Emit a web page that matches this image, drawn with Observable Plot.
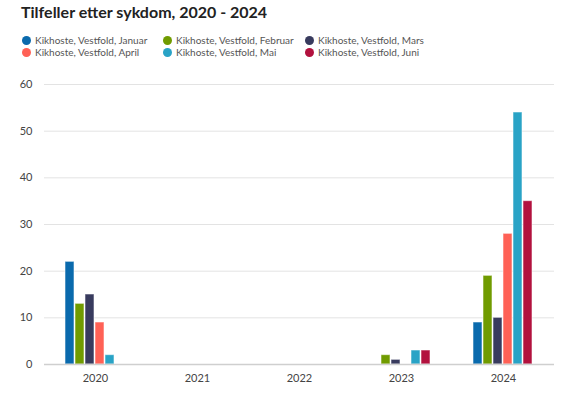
<!DOCTYPE html>
<html>
<head>
<meta charset="utf-8">
<script src="https://cdn.jsdelivr.net/npm/d3@7"></script>
<script src="https://cdn.jsdelivr.net/npm/@observablehq/plot@0.6"></script>
<style>
  body { margin: 0; background: #fff; font-family: Lato, "Open Sans", sans-serif; }
  #wrap { position: relative; width: 577px; height: 399px; }
  #title { position: absolute; left: 21px; top: 2px; font-size: 16px; font-weight: bold; color: #222; }
  .leg { position: absolute; font-size: 10px; color: #555; white-space: nowrap; }
  .leg .dot { display: inline-block; width: 9px; height: 9px; border-radius: 50%; vertical-align: -1px; margin-right: 4px; }
  #chart { position: absolute; left: 0; top: 66px; }
</style>
</head>
<body>
<div id="wrap">
  <div id="title">Tilfeller etter sykdom, 2020 - 2024</div>
  <div id="legend"></div>
  <div id="chart"></div>
</div>
<script>
const years = ["2020", "2021", "2022", "2023", "2024"];
const series = [
  "Kikhoste, Vestfold, Januar",
  "Kikhoste, Vestfold, Februar",
  "Kikhoste, Vestfold, Mars",
  "Kikhoste, Vestfold, April",
  "Kikhoste, Vestfold, Mai",
  "Kikhoste, Vestfold, Juni"
];
const colors = ["#0a6aad", "#709b00", "#383b5e", "#ff6156", "#29a3c6", "#b2113e"];
const januar  = [22, 0, 0, 0, 9];
const februar = [13, 0, 0, 2, 19];
const mars    = [15, 0, 0, 1, 10];
const april   = [9, 0, 0, 0, 28];
const mai     = [2, 0, 0, 3, 54];
const juni    = [0, 0, 0, 3, 35];
const yTicks = [0, 10, 20, 30, 40, 50, 60];

const valueLists = [januar, februar, mars, april, mai, juni];
const data = [];
years.forEach((yr, i) => {
  series.forEach((s, j) => data.push({year: yr, series: s, value: valueLists[j][i]}));
});

// legend
const legend = document.getElementById("legend");
const colX = [22, 163, 305];
const rowY = [34, 46];
series.forEach((s, j) => {
  const d = document.createElement("div");
  d.className = "leg";
  d.style.left = colX[j % 3] + "px";
  d.style.top = rowY[Math.floor(j / 3)] + "px";
  d.innerHTML = `<span class="dot" style="background:${colors[j]}"></span>${s}`;
  legend.appendChild(d);
});

const chart = Plot.plot({
  width: 577,
  height: 328,
  marginLeft: 43,
  marginRight: 22,
  marginTop: 18,
  marginBottom: 30,
  style: { fontFamily: "Lato, 'Open Sans', sans-serif", fontSize: "11px", color: "#444" },
  fx: { domain: years, padding: 0, label: null, tickSize: 0, tickPadding: 10, axis: "bottom" },
  x: { domain: series, axis: null, paddingInner: 0.06, paddingOuter: 2.0 },
  y: { domain: [0, 60], ticks: yTicks, label: null, tickSize: 0, tickPadding: 12 },
  color: { domain: series, range: colors },
  marks: [
    Plot.gridY(yTicks, { stroke: "#e3e3e3", strokeOpacity: 1 }),
    Plot.barY(data, {
      fx: "year", x: "series", y: "value", fill: "series",
      stroke: "#ffffff", strokeOpacity: 0.55, strokeWidth: 1
    }),
    Plot.ruleY([0], { stroke: "#cfcfcf", strokeWidth: 1.5 })
  ]
});
document.getElementById("chart").appendChild(chart);
</script>
</body>
</html>
